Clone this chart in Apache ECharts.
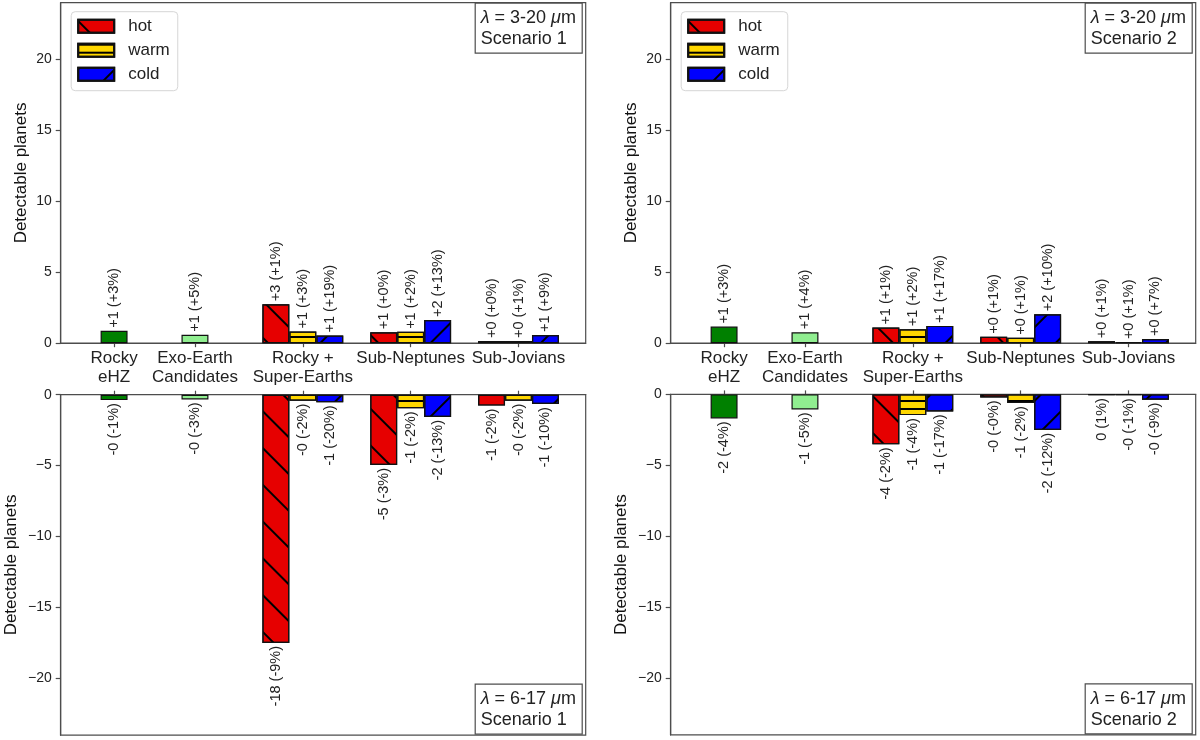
<!DOCTYPE html>
<html>
<head>
<meta charset="utf-8">
<script src="https://cdn.jsdelivr.net/npm/echarts@6/dist/echarts.min.js"></script>
<style>
html,body{margin:0;padding:0;background:#fff;}
#c{width:1200px;height:740px;}
</style>
</head>
<body>
<div id="c"></div>
<script>
// ---------- data ----------
const categories = ['Rocky\neHZ', 'Exo-Earth\nCandidates', 'Rocky +\nSuper-Earths', 'Sub-Neptunes', 'Sub-Jovians'];
const categoryTicks = [0, 0.75, 1.75, 2.75, 3.75];
const tempClasses = ['hot', 'warm', 'cold'];
const yTicksTop = [0, 5, 10, 15, 20];
const yTicksBottom = [0, -5, -10, -15, -20];

// Panel A: lambda 3-20 um, Scenario 1 (gain)
const s1GainRocky = [0.88, 0.60];
const s1GainRockyLabels = ['+1 (+3%)', '+1 (+5%)'];
const s1GainHot = [2.75, 0.77, 0.15];
const s1GainHotLabels = ['+3 (+1%)', '+1 (+0%)', '+0 (+0%)'];
const s1GainWarm = [0.82, 0.80, 0.15];
const s1GainWarmLabels = ['+1 (+3%)', '+1 (+2%)', '+0 (+1%)'];
const s1GainCold = [0.54, 1.63, 0.58];
const s1GainColdLabels = ['+1 (+19%)', '+2 (+13%)', '+1 (+9%)'];

// Panel B: lambda 6-17 um, Scenario 1 (loss)
const s1LossRocky = [-0.38, -0.33];
const s1LossRockyLabels = ['-0 (-1%)', '-0 (-3%)'];
const s1LossHot = [-17.5, -4.95, -0.77];
const s1LossHotLabels = ['-18 (-9%)', '-5 (-3%)', '-1 (-2%)'];
const s1LossWarm = [-0.42, -0.96, -0.42];
const s1LossWarmLabels = ['-0 (-2%)', '-1 (-2%)', '-0 (-2%)'];
const s1LossCold = [-0.54, -1.57, -0.66];
const s1LossColdLabels = ['-1 (-20%)', '-2 (-13%)', '-1 (-10%)'];

// Panel C: lambda 3-20 um, Scenario 2 (gain)
const s2GainRocky = [1.17, 0.77];
const s2GainRockyLabels = ['+1 (+3%)', '+1 (+4%)'];
const s2GainHot = [1.10, 0.45, 0.14];
const s2GainHotLabels = ['+1 (+1%)', '+0 (+1%)', '+0 (+1%)'];
const s2GainWarm = [0.98, 0.38, 0.07];
const s2GainWarmLabels = ['+1 (+2%)', '+0 (+1%)', '+0 (+1%)'];
const s2GainCold = [1.22, 2.04, 0.30];
const s2GainColdLabels = ['+1 (+17%)', '+2 (+10%)', '+0 (+7%)'];

// Panel D: lambda 6-17 um, Scenario 2 (loss)
const s2LossRocky = [-1.69, -1.06];
const s2LossRockyLabels = ['-2 (-4%)', '-1 (-5%)'];
const s2LossHot = [-3.52, -0.21, -0.02];
const s2LossHotLabels = ['-4 (-2%)', '-0 (-0%)', '0 (1%)'];
const s2LossWarm = [-1.46, -0.61, -0.05];
const s2LossWarmLabels = ['-1 (-4%)', '-1 (-2%)', '-0 (-1%)'];
const s2LossCold = [-1.20, -2.51, -0.38];
const s2LossColdLabels = ['-1 (-17%)', '-2 (-12%)', '-0 (-9%)'];

const panelTexts = [
  ['3-20', 'Scenario 1'], ['6-17', 'Scenario 1'],
  ['3-20', 'Scenario 2'], ['6-17', 'Scenario 2']
];

// ---------- style / layout ----------
const FONT = 'Liberation Sans, Arial, sans-serif';
const X_MIN = -0.495, X_MAX = 4.373;
const BAR_W = 0.25;
const GRID_W = 525, GRID_H = 340.5;
const grids = [
  {left: 60.7, top: 2.7},
  {left: 60.7, top: 394.7},
  {left: 670.7, top: 2.7},
  {left: 670.7, top: 394.4}
];
const barPx = GRID_W * BAR_W / (X_MAX - X_MIN);
const frameColor = '#4d4d4d';
const edgeColor = '#111';
const colors = {hot: '#e60000', warm: '#ffd700', cold: '#0000ff', eHZ: '#008000', exo: '#90ee90'};
const decals = {
  hot: {symbol: 'rect', symbolSize: 1, dashArrayX: [1, 0], dashArrayY: [1.3, 23.4], rotation: Math.PI / 4, color: '#000'},
  warm: {symbol: 'rect', symbolSize: 1, dashArrayX: [1, 0], dashArrayY: [1.3, 6.0], rotation: 0, color: '#000'},
  cold: {symbol: 'rect', symbolSize: 1, dashArrayX: [1, 0], dashArrayY: [1.3, 23.4], rotation: -Math.PI / 4, color: '#000'}
};

const panels = [
  {rocky: s1GainRocky, rockyL: s1GainRockyLabels, hot: s1GainHot, hotL: s1GainHotLabels, warm: s1GainWarm, warmL: s1GainWarmLabels, cold: s1GainCold, coldL: s1GainColdLabels, top: true},
  {rocky: s1LossRocky, rockyL: s1LossRockyLabels, hot: s1LossHot, hotL: s1LossHotLabels, warm: s1LossWarm, warmL: s1LossWarmLabels, cold: s1LossCold, coldL: s1LossColdLabels, top: false},
  {rocky: s2GainRocky, rockyL: s2GainRockyLabels, hot: s2GainHot, hotL: s2GainHotLabels, warm: s2GainWarm, warmL: s2GainWarmLabels, cold: s2GainCold, coldL: s2GainColdLabels, top: true},
  {rocky: s2LossRocky, rockyL: s2LossRockyLabels, hot: s2LossHot, hotL: s2LossHotLabels, warm: s2LossWarm, warmL: s2LossWarmLabels, cold: s2LossCold, coldL: s2LossColdLabels, top: false}
];

const option = {
  animation: false,
  backgroundColor: '#fff',
  textStyle: {fontFamily: FONT},
  grid: [], xAxis: [], yAxis: [], series: [], title: [], legend: []
};

const minusFmt = v => String(v).replace('-', '\u2212');

panels.forEach((p, i) => {
  const g = grids[i];
  option.grid.push({left: g.left, top: g.top, width: GRID_W, height: GRID_H, show: true, borderColor: frameColor, borderWidth: 1.2, containLabel: false});
  option.xAxis.push({
    type: 'value', gridIndex: i, min: X_MIN, max: X_MAX,
    position: p.top ? 'bottom' : 'top',
    splitLine: {show: false},
    axisLine: {show: true, onZero: false, lineStyle: {color: frameColor, width: 1.2}},
    axisTick: {show: true, length: 4, customValues: categoryTicks, lineStyle: {color: frameColor, width: 1.2}},
    axisLabel: {
      show: p.top, customValues: categoryTicks, margin: 6,
      fontSize: 17, lineHeight: 19, color: '#222', fontFamily: FONT,
      formatter: v => { const k = categoryTicks.findIndex(t => Math.abs(t - v) < 1e-6); return k >= 0 ? categories[k] : ''; }
    }
  });
  const ticks = p.top ? yTicksTop : yTicksBottom;
  option.yAxis.push({
    type: 'value', gridIndex: i,
    min: p.top ? 0 : -24, max: p.top ? 24 : 0,
    name: 'Detectable planets', nameLocation: 'middle', nameGap: p.top ? 31 : 41,
    nameTextStyle: {fontSize: 17, color: '#111', fontFamily: FONT},
    splitLine: {show: false},
    axisLine: {show: true, onZero: false, lineStyle: {color: frameColor, width: 1.2}},
    axisTick: {show: true, length: 5, customValues: ticks, lineStyle: {color: frameColor, width: 1.2}},
    axisLabel: {customValues: ticks, margin: 9, fontSize: 14, color: '#222', fontFamily: FONT, formatter: minusFmt}
  });

  const lab = (arr) => ({
    show: true, position: p.top ? 'top' : 'bottom', distance: 3, rotate: 90,
    align: p.top ? 'left' : 'right', verticalAlign: 'middle',
    fontSize: 14.5, color: '#222', fontFamily: FONT,
    formatter: prm => arr[prm.dataIndex]
  });
  const common = {type: 'bar', xAxisIndex: i, yAxisIndex: i, barWidth: barPx, barGap: '-100%'};

  option.series.push(Object.assign({}, common, {
    name: 'rocky',
    data: p.rocky.map((v, k) => ({value: [categoryTicks[k], v], itemStyle: {color: k === 0 ? colors.eHZ : colors.exo}})),
    itemStyle: {borderColor: edgeColor, borderWidth: 1.2},
    label: lab(p.rockyL)
  }));
  tempClasses.forEach((t, j) => {
    const vals = p[t];
    option.series.push(Object.assign({}, common, {
      name: t,
      data: vals.map((v, k) => [categoryTicks[k + 2] + (j - 1) * BAR_W, v]),
      itemStyle: {color: colors[t], borderColor: edgeColor, borderWidth: 1.2, decal: decals[t]},
      label: lab(p[t + 'L'])
    }));
  });

  const tx = panelTexts[i];
  option.title.push({
    text: '{i|\u03bb} = ' + tx[0] + ' {i|\u03bc}m\n' + tx[1],
    left: g.left + GRID_W - 111, top: p.top ? g.top : g.top + GRID_H - 51.5,
    padding: [5, 6, 4, 6],
    borderColor: frameColor, borderWidth: 1.2, backgroundColor: '#fff',
    textStyle: {fontSize: 18, fontWeight: 'normal', color: '#222', lineHeight: 21, fontFamily: FONT,
      rich: {i: {fontSize: 18, fontStyle: 'italic', color: '#222', lineHeight: 21, fontFamily: FONT}}}
  });
  if (p.top) {
    option.legend.push({
      data: tempClasses, orient: 'vertical',
      left: g.left + 10.5, top: g.top + 9,
      itemWidth: 36, itemHeight: 13, itemGap: 7,
      padding: [6, 8, 8, 6],
      borderColor: '#d6d6d6', borderWidth: 1, borderRadius: 4, backgroundColor: '#fff',
      icon: 'rect', selectedMode: false,
      textStyle: {fontSize: 17, color: '#222', lineHeight: 13, padding: [0, 0, 0, 9], fontFamily: FONT}
    });
  }
});

const chart = echarts.init(document.getElementById('c'), null, {renderer: 'canvas'});
chart.setOption(option);
</script>
</body>
</html>
